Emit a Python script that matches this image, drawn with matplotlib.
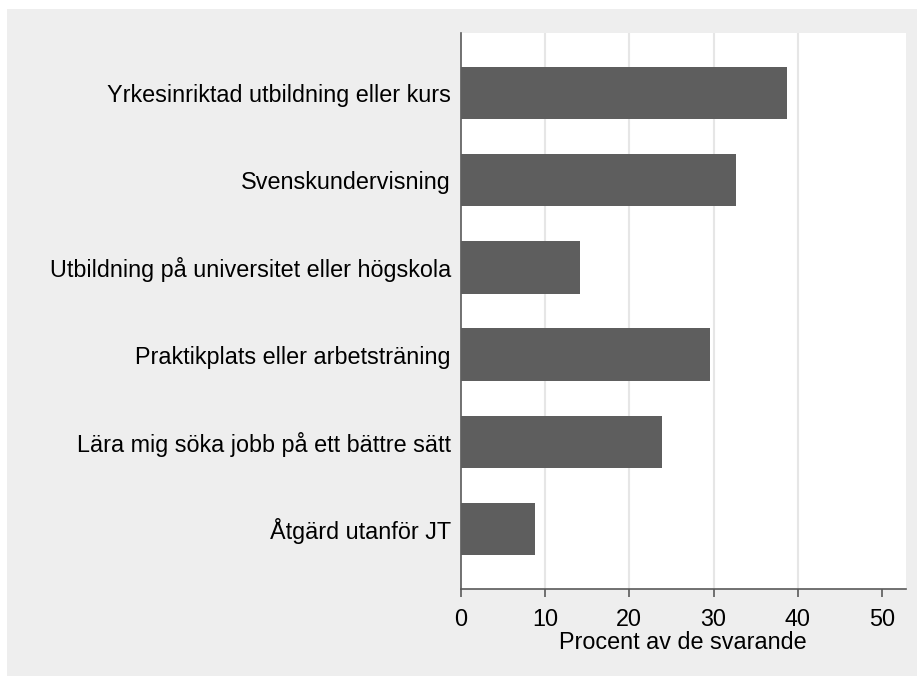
import matplotlib
matplotlib.use("Agg")
import matplotlib.pyplot as plt
from matplotlib.patches import Rectangle

plt.rcParams['font.family'] = ['Liberation Sans', 'DejaVu Sans']

categories = [
    "Yrkesinriktad utbildning eller kurs",
    "Svenskundervisning",
    "Utbildning på universitet eller högskola",
    "Praktikplats eller arbetsträning",
    "Lära mig söka jobb på ett bättre sätt",
    "Åtgärd utanför JT",
]
values = [38.7, 32.7, 14.2, 29.6, 23.9, 8.8]
xticks = [0, 10, 20, 30, 40, 50]

bg = "#eeeeee"
bar_color = "#5e5e5e"
axis_color = "#5a5a5a"
fs = 16.8

fig = plt.figure(figsize=(9.17, 6.76), dpi=100, facecolor="white")
# grey panel behind everything, with a thin white margin on the left and top
fig.add_artist(Rectangle((7 / 917, 0), 1, 1 - 9 / 676, transform=fig.transFigure,
                         facecolor=bg, edgecolor="none", zorder=-10))

ax = fig.add_axes([460.7 / 917, 1 - 589 / 676, 445 / 917, 556 / 676])
ax.set_facecolor("white")

pos = list(range(len(categories)))
ax.barh(pos, values, height=0.6, color=bar_color, zorder=3)

ax.set_xlim(0, 52.8)
ax.set_ylim(5.69, -0.69)
ax.set_xticks(xticks)
ax.set_xticklabels([str(t) for t in xticks])
ax.set_yticks(pos)
ax.set_yticklabels(categories)

for t in xticks[1:-1]:
    ax.axvline(t, color="#e6e6e6", lw=1.5, zorder=1)

for s in ["top", "right"]:
    ax.spines[s].set_visible(False)
for s in ["left", "bottom"]:
    ax.spines[s].set_color(axis_color)
    ax.spines[s].set_linewidth(1.2)

ax.tick_params(axis="y", length=0, pad=7, labelsize=fs, colors="black")
ax.tick_params(axis="x", length=6, width=1.2, color=axis_color, pad=8, labelsize=fs, labelcolor="black")
ax.set_xlabel("Procent av de svarande", fontsize=fs, labelpad=0)

fig.savefig("out.png", dpi=100, facecolor=fig.get_facecolor())
